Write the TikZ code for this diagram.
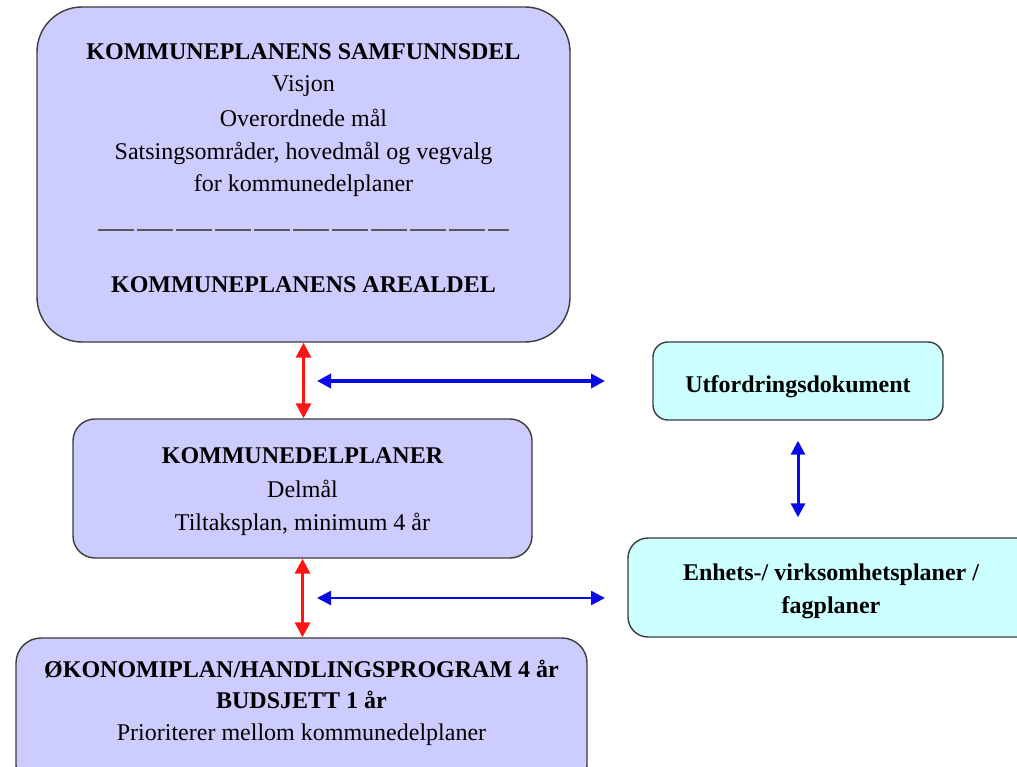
\documentclass[tikz,border=0pt]{standalone}
\usepackage{fontspec}
\setmainfont{Liberation Serif}
\usetikzlibrary{arrows.meta}
\definecolor{lav}{RGB}{204,204,255}
\definecolor{cyanbox}{RGB}{204,255,255}
\definecolor{edge}{RGB}{60,60,60}
\definecolor{redarr}{RGB}{255,20,20}
\definecolor{bluearr}{RGB}{10,10,230}
\tikzset{
  lbox/.style={draw=edge, line width=1.4pt, fill=lav, inner sep=0pt},
  cbox/.style={draw=edge, line width=1.4pt, fill=cyanbox, inner sep=0pt},
  txt/.style={anchor=base, inner sep=0pt, font=\fontsize{24}{28}\selectfont},
  btxt/.style={txt, font=\fontsize{24}{28}\selectfont\bfseries},
  redlink/.style={draw=redarr, line width=3pt, {Triangle[width=15pt,length=15pt]}-{Triangle[width=15pt,length=15pt]}},
  bluelink/.style={draw=bluearr, {Triangle[width=14pt,length=14pt]}-{Triangle[width=14pt,length=14pt]}},
  sepline/.style={draw=black!65, line width=2pt, dash pattern=on 36pt off 3pt}
}
\begin{document}
\begin{tikzpicture}[x=1pt,y=-1pt]
\useasboundingbox (0,0) rectangle (1017,767);
\clip (0,0) rectangle (1017,767);
\fill[white] (0,0) rectangle (1017,767);
% boxes
\node[lbox, minimum width=533pt, minimum height=335pt, rounded corners=45pt] (top) at (303.5,174.5) {};
\node[lbox, minimum width=459pt, minimum height=139pt, rounded corners=22pt] (mid) at (302.5,488.5) {};
\node[lbox, minimum width=571pt, minimum height=152pt, rounded corners=25pt] (bot) at (301.5,714) {};
\node[cbox, minimum width=290pt, minimum height=78pt, rounded corners=15pt] (utf) at (798,381) {};
\node[cbox, minimum width=412pt, minimum height=99pt, rounded corners=20pt] (enh) at (834,587.5) {};
% top box text
\node[btxt] (t1) at (303.5,60) {KOMMUNEPLANENS SAMFUNNSDEL};
\node[txt] (t2) at (303.5,92) {Visjon};
\node[txt] (t3) at (303.5,127) {Overordnede mål};
\node[txt] (t4) at (303.5,160) {Satsingsområder, hovedmål og vegvalg};
\node[txt] (t5) at (303.5,192) {for kommunedelplaner};
\coordinate (sl) at (98,230);
\coordinate (sr) at (509,230);
\draw[sepline] (sl) -- (sr);
\node[btxt] (t6) at (303.5,293) {KOMMUNEPLANENS AREALDEL};
% middle box text
\node[btxt] (m1) at (302.5,463) {KOMMUNEDELPLANER};
\node[txt] (m2) at (302.5,497) {Delmål};
\node[txt] (m3) at (302.5,530) {Tiltaksplan, minimum 4 år};
% bottom box text
\node[btxt] (o1) at (301.5,677) {ØKONOMIPLAN/HANDLINGSPROGRAM 4 år};
\node[btxt] (o2) at (301.5,708) {BUDSJETT 1 år};
\node[txt] (o3) at (301.5,740) {Prioriterer mellom kommunedelplaner};
% right boxes text
\node[btxt] (u1) at (798,392) {Utfordringsdokument};
\node[btxt] (e1) at (831,580) {Enhets-/ virksomhetsplaner /};
\node[btxt] (e2) at (831,613) {fagplaner};
% connectors
\draw[redlink] (top.south) -- (top.south |- mid.north);
\draw[redlink] (mid.south) -- (mid.south |- bot.north);
\coordinate (a1l) at (317,381);
\coordinate (a1r) at (605,381);
\coordinate (a2l) at (317,598);
\coordinate (a2r) at (605,598);
\draw[bluelink, line width=3.5pt] (a1l) -- (a1r);
\draw[bluelink, line width=2.5pt] (a2l) -- (a2r);
\draw[bluelink, line width=3pt, shorten <=20pt, shorten >=20pt] (utf.south) -- (utf.south |- enh.north);
\end{tikzpicture}
\end{document}
